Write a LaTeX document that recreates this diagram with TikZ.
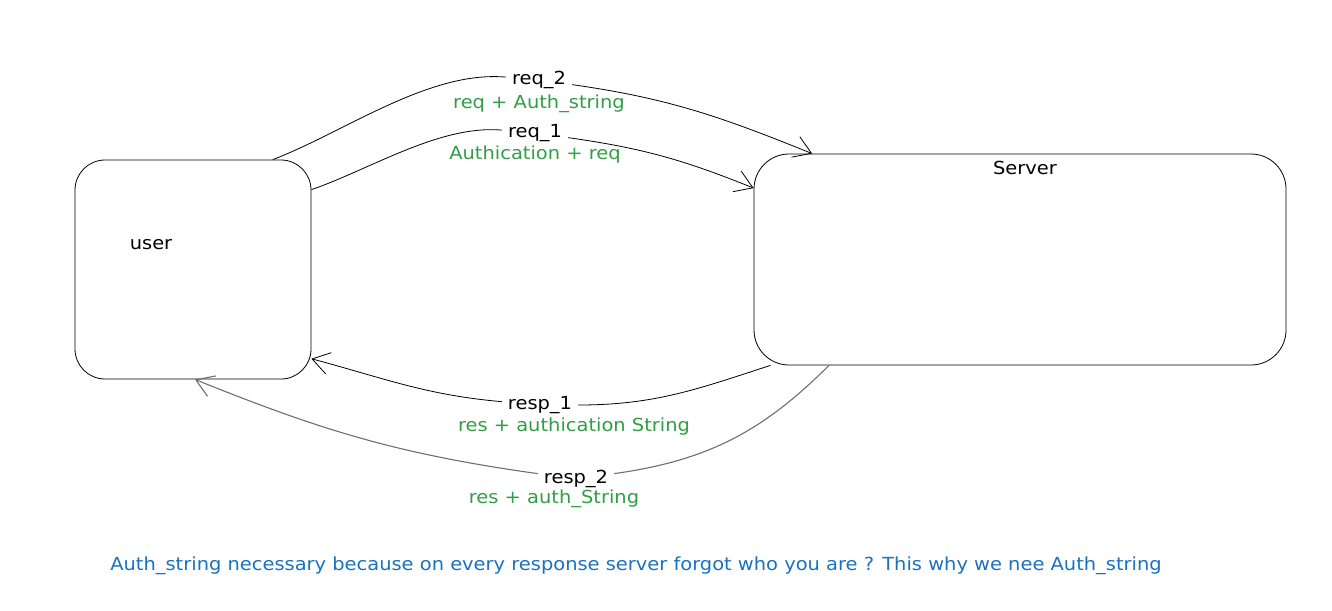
\documentclass[tikz,border=0pt]{standalone}
\usepackage{fontspec}
\setmainfont[FakeStretch=1.08]{DejaVu Sans}
\usetikzlibrary{arrows.meta,positioning}
\definecolor{authgreen}{HTML}{2F9E44}
\definecolor{noteblue}{HTML}{1971C2}
\definecolor{respgray}{HTML}{6E6E6E}

\begin{document}
\begin{tikzpicture}[x=1pt,y=1pt,node distance=22pt,on grid,auto,
    >={Straight Barb[length=17pt,width=22pt]},
    box/.style={draw,line width=0.8pt,inner sep=0pt},
    lbl/.style={inner xsep=6pt,inner ysep=2pt,font=\fontsize{18}{21}\selectfont},
    msg/.style={text=authgreen,font=\fontsize{18}{21}\selectfont}]
                \useasboundingbox (0,0) rectangle (1332,-610);
                \node[box,rounded corners=30pt,minimum width=236pt,minimum height=219pt] (user) at (193,-269.5) {};
                \node[box,rounded corners=35pt,minimum width=532pt,minimum height=211pt] (server) at (1020,-259.5) {};
                \node[lbl] (userlbl) at (151,-245) {user};
                \node[lbl] (serverlbl) at (1025,-168) {Server};
                % labels on the arrows
                \node[lbl] (req2) at (539,-80) {req\_2};
                \node[msg] [below=24pt of req2] (req2msg) {req + Auth\_string};
                \node[lbl] (req1) at (535,-133) {req\_1};
                \node[msg] [below=22pt of req1] (req1msg) {Authication + req};
                \node[lbl] (resp1) at (540,-405) {resp\_1};
                \node[msg] [below right=22pt and 34pt of resp1] (resp1msg) {res + authication String};
                \node[lbl] (resp2) at (576,-479) {resp\_2};
                \node[msg] [below left=20pt and 22pt of resp2] (resp2msg) {res + auth\_String};
                \node[lbl,text=noteblue] (note) at (636,-566) {Auth\_string necessary because on every response server forgot who you are ? This why we nee Auth\_string};
                \path[line width=0.8pt]
                (user.54) edge [out=21, in=175, looseness=0.8] (req2)
                (req2) edge [->, out=-8, in=158] (server.153)
                (user.34) edge [out=19, in=175, looseness=0.8] (req1)
                (req1) edge [->, out=-8, in=158] (server.165)
                (server.203) edge [out=198, in=0] (resp1)
                (resp1) edge [->, out=175, in=-15] (user.-37);
                \path[line width=1.1pt, respgray]
                (server.209) edge [out=225, in=8] (resp2)
                (resp2) edge [->, out=172, in=-22] (user.-89);
            \end{tikzpicture}
\end{document}
